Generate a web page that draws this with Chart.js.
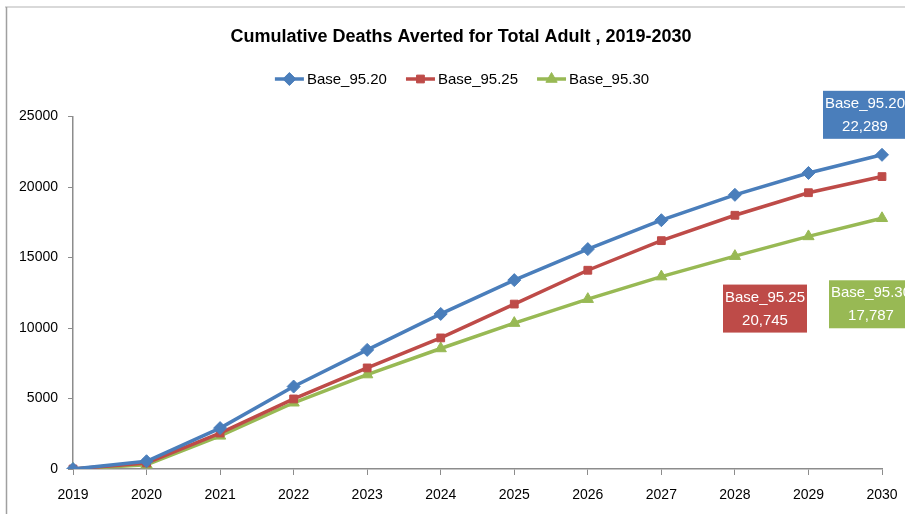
<!DOCTYPE html>
<html>
<head>
<meta charset="utf-8">
<title>Cumulative Deaths Averted</title>
<script src="https://cdn.jsdelivr.net/npm/chart.js@4.4.1/dist/chart.umd.min.js"></script>
<style>
  html, body { margin: 0; padding: 0; background: #fff; }
  #wrap { width: 905px; height: 514px; }
</style>
</head>
<body>
<div id="wrap"><canvas id="myChart" width="905" height="514"></canvas></div>
<script>
const FONT = '"Liberation Sans", Arial, sans-serif';

const years = ['2019', '2020', '2021', '2022', '2023', '2024', '2025', '2026', '2027', '2028', '2029', '2030'];
const seriesNames = ['Base_95.20', 'Base_95.25', 'Base_95.30'];
const base9520 = [0, 550, 2900, 5850, 8450, 11000, 13400, 15600, 17650, 19450, 21000, 22289];
const base9525 = [0, 430, 2550, 4970, 7170, 9300, 11700, 14100, 16200, 18000, 19600, 20745];
const base9530 = [0, 300, 2350, 4700, 6700, 8550, 10350, 12050, 13650, 15100, 16500, 17787];
const yTicks = [0, 5000, 10000, 15000, 20000, 25000];

const colors = ['#4A7EBB', '#BE4B48', '#98B954'];
const markers = ['rectRot', 'rect', 'triangle'];
// where each end-of-line callout sits, relative to the last point
const calloutOffsets = [[-17, -40], [-117, 132], [-11, 86]];

// Excel-style chart frame
const framePlugin = {
  id: 'frame',
  beforeDraw(chart) {
    const ctx = chart.ctx;
    ctx.save();
    ctx.strokeStyle = '#d9d9d9';
    ctx.lineWidth = 2;
    ctx.beginPath();
    ctx.moveTo(5, 7);
    ctx.lineTo(chart.width, 7);
    ctx.stroke();
    ctx.strokeStyle = '#a0a0a0';
    ctx.lineWidth = 1.5;
    ctx.beginPath();
    ctx.moveTo(6.5, 7);
    ctx.lineTo(6.5, chart.height);
    ctx.stroke();
    ctx.restore();
  }
};

// legend drawn as line + marker, like the office chart legend
const lineLegend = {
  id: 'lineLegend',
  afterDraw(chart) {
    const ctx = chart.ctx;
    const y = 79;
    const lineLen = 29, textGap = 3, itemGap = 19;
    ctx.save();
    ctx.font = '15px ' + FONT;
    const widths = chart.data.datasets.map(ds => lineLen + textGap + ctx.measureText(ds.label).width);
    const total = widths.reduce((a, b) => a + b, 0) + itemGap * (widths.length - 1);
    let x = 462 - total / 2;
    chart.data.datasets.forEach((ds, i) => {
      ctx.strokeStyle = ds.borderColor;
      ctx.fillStyle = ds.backgroundColor;
      ctx.lineWidth = 3.5;
      ctx.beginPath();
      ctx.moveTo(x, y);
      ctx.lineTo(x + lineLen, y);
      ctx.stroke();
      ctx.lineWidth = 1;
      Chart.helpers.drawPoint(ctx, {
        pointStyle: ds.pointStyle, radius: ds.pointRadius, borderWidth: 1, rotation: 0
      }, x + lineLen / 2, y);
      ctx.fillStyle = '#000';
      ctx.textBaseline = 'middle';
      ctx.textAlign = 'left';
      ctx.fillText(ds.label, x + lineLen + textGap, y + 1);
      x += widths[i] + itemGap;
    });
    ctx.restore();
  }
};

// boxed labels with the final value of each series
const endCallouts = {
  id: 'endCallouts',
  afterDatasetsDraw(chart) {
    const ctx = chart.ctx;
    const w = 84, h = 48;
    ctx.save();
    chart.data.datasets.forEach((ds, i) => {
      const meta = chart.getDatasetMeta(i);
      const last = meta.data[meta.data.length - 1];
      const cx = last.x + calloutOffsets[i][0];
      const cy = last.y + calloutOffsets[i][1];
      ctx.fillStyle = ds.borderColor;
      ctx.fillRect(cx - w / 2, cy - h / 2, w, h);
      ctx.fillStyle = '#fff';
      ctx.font = '15px ' + FONT;
      ctx.textAlign = 'center';
      ctx.textBaseline = 'middle';
      const value = ds.data[ds.data.length - 1];
      ctx.fillText(ds.label, cx, cy - 11);
      ctx.fillText(value.toLocaleString('en-US'), cx, cy + 12);
    });
    ctx.restore();
  }
};

const allSeries = [base9520, base9525, base9530];

const chartData = {
  labels: years,
  datasets: allSeries.map((values, i) => ({
    label: seriesNames[i],
    data: values,
    borderColor: colors[i],
    backgroundColor: colors[i],
    borderWidth: 3.5,
    pointStyle: markers[i],
    pointRadius: i === 1 ? 5.5 : 6.5,
    pointBorderWidth: 1,
    tension: 0,
  })),
};

const chartConfig = {
  type: 'line',
  data: chartData,
  plugins: [framePlugin, lineLegend, endCallouts],
  options: {
    responsive: false,
    animation: false,
    layout: { padding: { left: 17, right: 0, top: 0, bottom: 0 } },
    plugins: {
      legend: { display: false },
      tooltip: { enabled: false },
      title: {
        display: true,
        text: 'Cumulative Deaths Averted for Total Adult , 2019-2030',
        color: '#000',
        font: { family: FONT, size: 18, weight: 'bold' },
        padding: { top: 26, bottom: 69 },
      },
    },
    scales: {
      x: {
        offset: false,
        grid: { drawOnChartArea: false, drawTicks: true, tickLength: 6, color: '#8c8c8c' },
        border: { color: '#8c8c8c', width: 1.5 },
        ticks: { color: '#000', font: { family: FONT, size: 14 }, padding: 12, maxRotation: 0 },
        afterFit(axis) {
          axis.height = 45;
          axis.paddingRight = 23;
        },
      },
      y: {
        min: 0,
        max: 25000,
        afterBuildTicks(axis) { axis.ticks = yTicks.map(v => ({ value: v })); },
        grid: { drawOnChartArea: false, drawTicks: true, tickLength: 5, color: '#8c8c8c' },
        border: { color: '#8c8c8c', width: 1.5 },
        ticks: {
          color: '#000',
          font: { family: FONT, size: 14 },
          padding: 10,
          callback: v => String(v),
        },
        afterFit(axis) { axis.width = 56; },
      },
    },
  },
};

new Chart(document.getElementById('myChart'), chartConfig);
</script>
</body>
</html>
